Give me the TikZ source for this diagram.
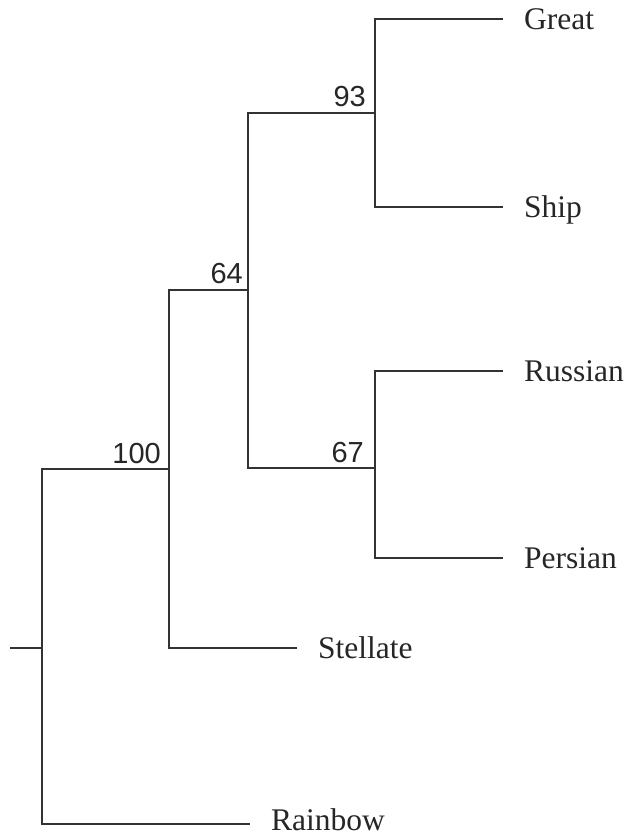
\documentclass[tikz,border=0pt]{standalone}
\usepackage{fontspec}
\setmainfont{Liberation Serif}
\newfontfamily\numfont{Liberation Sans}
\begin{document}
\begin{tikzpicture}[x=1pt,y=-1pt,
  branch/.style={line width=1.4pt,draw=black!80},
  leaf/.style={font=\fontsize{31.5}{36}\selectfont, text=black!85, anchor=west,
    inner xsep=21pt, inner ysep=0pt, text height=21pt, text depth=0pt},
  support/.style={font=\numfont\fontsize{29}{34}\selectfont, text=black!85,
    anchor=base east, inner sep=0pt}]
\useasboundingbox (0,0) rectangle (629,837);
% internal nodes
\coordinate (s0) at (10,648);
\coordinate (r) at (42,648);
\coordinate (a) at (169,469);
\coordinate (b) at (248,290);
\coordinate (c) at (375,113);
\coordinate (d) at (375,468);
% leaves
\node[leaf] (great) at (503,19) {Great};
\node[leaf] (ship) at (503,207) {Ship};
\node[leaf] (russian) at (503,371) {Russian};
\node[leaf] (persian) at (503,558) {Persian};
\node[leaf] (stellate) at (297,648) {Stellate};
\node[leaf] (rainbow) at (250,820) {Rainbow};
% branches
\draw[branch] (s0) -- (r);
\draw[branch] (r) |- (a);
\draw[branch] (r) |- ([yshift=-4pt]rainbow.west);
\draw[branch] (a) |- (b);
\draw[branch] (a) |- (stellate.west);
\draw[branch] (b) |- (c);
\draw[branch] (b) |- (d);
\draw[branch] (c) |- (great.west);
\draw[branch] (c) |- (ship.west);
\draw[branch] (d) |- (russian.west);
\draw[branch] (d) |- (persian.west);
% support values
\node[support] (l100) at ([xshift=-8pt,yshift=6pt]a) {100};
\node[support] (l64) at ([xshift=-5pt,yshift=7pt]b) {64};
\node[support] (l93) at ([xshift=-9pt,yshift=6pt]c) {93};
\node[support] (l67) at ([xshift=-11pt,yshift=6pt]d) {67};
\end{tikzpicture}
\end{document}
